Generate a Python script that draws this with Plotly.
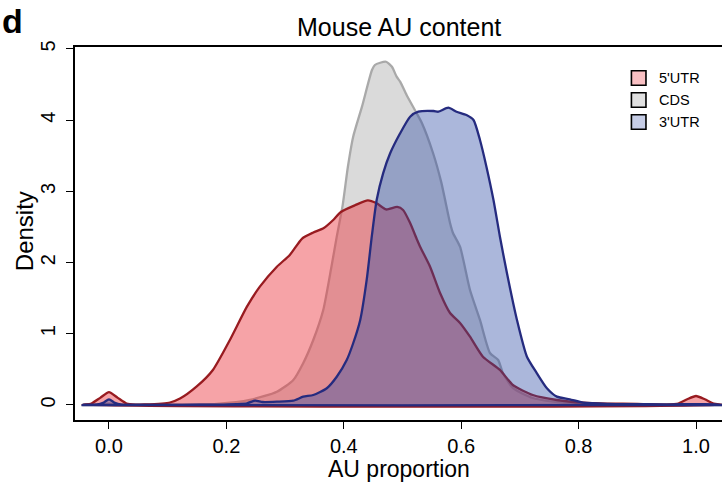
import plotly.graph_objects as go

# Kernel density estimates of AU proportion per transcript region (mouse)
utr5_x = [-0.045, -0.03, -0.015, 0.0, 0.015, 0.03, 0.045, 0.06, 0.09, 0.104, 0.121, 0.149,
          0.177, 0.206, 0.235, 0.257, 0.286, 0.308, 0.329, 0.348, 0.366, 0.382, 0.395,
          0.419, 0.441, 0.456, 0.472, 0.491, 0.501, 0.513, 0.525, 0.530, 0.547, 0.564,
          0.581, 0.598, 0.615, 0.637, 0.666, 0.688, 0.722, 0.763, 0.808, 0.85, 0.90,
          0.95, 0.97, 0.985, 1.0, 1.015, 1.03, 1.045]
utr5_y = [0.0, 0.02, 0.10, 0.180, 0.10, 0.02, 0.006, 0.008, 0.02, 0.035, 0.09, 0.257,
          0.492, 0.913, 1.381, 1.662, 1.942, 2.107, 2.338, 2.423, 2.486, 2.598, 2.711,
          2.805, 2.875, 2.833, 2.746, 2.781, 2.739, 2.556, 2.317, 2.223, 1.942, 1.573,
          1.292, 1.152, 0.959, 0.678, 0.492, 0.281, 0.140, 0.070, 0.032, 0.02, 0.015,
          0.006, 0.02, 0.08, 0.126, 0.08, 0.02, 0.0]

cds_x = [-0.045, -0.02, 0.0, 0.02, 0.05, 0.10, 0.15, 0.184, 0.240, 0.286, 0.314, 0.331,
         0.348, 0.365, 0.379, 0.388, 0.398, 0.407, 0.416, 0.431, 0.448, 0.453, 0.462,
         0.472, 0.482, 0.490, 0.496, 0.507, 0.521, 0.533, 0.552, 0.566, 0.581, 0.586,
         0.598, 0.615, 0.632, 0.649, 0.663, 0.671, 0.688, 0.722, 0.780, 0.85, 0.95,
         1.0, 1.045]
cds_y = [0.0, 0.004, 0.02, 0.004, 0.002, 0.003, 0.006, 0.014, 0.070, 0.187, 0.351, 0.590,
         0.913, 1.334, 1.943, 2.364, 2.800, 3.346, 3.768, 4.190, 4.705, 4.775, 4.807,
         4.821, 4.750, 4.611, 4.541, 4.354, 4.143, 3.960, 3.539, 3.130, 2.556, 2.416,
         2.223, 1.615, 1.194, 0.730, 0.632, 0.449, 0.239, 0.098, 0.028, 0.010, 0.004,
         0.006, 0.0]

utr3_x = [-0.045, -0.02, -0.01, 0.0, 0.01, 0.02, 0.05, 0.10, 0.15, 0.184, 0.235, 0.249,
          0.262, 0.286, 0.314, 0.331, 0.348, 0.371, 0.388, 0.405, 0.416, 0.428, 0.439,
          0.448, 0.456, 0.467, 0.479, 0.496, 0.513, 0.527, 0.553, 0.561, 0.578, 0.592,
          0.609, 0.621, 0.632, 0.643, 0.655, 0.666, 0.678, 0.695, 0.712, 0.729, 0.746,
          0.763, 0.785, 0.808, 0.85, 0.90, 0.95, 1.0, 1.045]
utr3_y = [0.0, 0.004, 0.03, 0.08, 0.03, 0.004, 0.002, 0.002, 0.003, 0.005, 0.024, 0.060,
          0.042, 0.046, 0.060, 0.117, 0.140, 0.235, 0.397, 0.632, 0.867, 1.194, 1.756,
          2.388, 2.879, 3.254, 3.535, 3.816, 4.049, 4.119, 4.129, 4.119, 4.176, 4.119,
          4.073, 4.003, 3.722, 3.347, 2.879, 2.364, 1.850, 1.194, 0.678, 0.445, 0.235,
          0.117, 0.080, 0.032, 0.015, 0.010, 0.005, 0.010, 0.0]

series_names = ["5'UTR", "CDS", "3'UTR"]
fill_colors = ["rgba(236,50,60,0.45)", "rgba(150,150,150,0.35)", "rgba(45,75,165,0.40)"]
line_colors = ["#981B20", "#A9A9A9", "#252B7F"]
key_colors = ["#F9C0C3", "#E0E0E0", "#C6CDE6"]

x_ticks = [0.0, 0.2, 0.4, 0.6, 0.8, 1.0]
x_tick_text = ["0.0", "0.2", "0.4", "0.6", "0.8", "1.0"]
y_ticks = [0, 1, 2, 3, 4, 5]

data = {"5'UTR": (utr5_x, utr5_y), "CDS": (cds_x, cds_y), "3'UTR": (utr3_x, utr3_y)}

FONT = "Liberation Sans, Arial, Helvetica, sans-serif"

fig = go.Figure()

# draw CDS underneath, then 5'UTR, then 3'UTR on top
for name in ["CDS", "5'UTR", "3'UTR"]:
    i = series_names.index(name)
    xs, ys = data[name]
    fig.add_trace(go.Scatter(
        x=list(xs) + [xs[0]], y=list(ys) + [ys[0]],
        mode="lines", fill="toself", fillcolor=fill_colors[i],
        line=dict(color=line_colors[i], width=2.3, shape="spline", smoothing=0.6),
        showlegend=False, hoverinfo="skip",
    ))

fig.update_layout(
    width=722, height=486,
    margin=dict(l=75, r=0, t=47, b=66),
    paper_bgcolor="white", plot_bgcolor="white",
    font=dict(family=FONT, color="black"),
    showlegend=False,
)

fig.update_xaxes(
    range=[-0.0579, 1.0443], tickvals=x_ticks, ticktext=x_tick_text,
    showgrid=False, zeroline=False, showline=True, mirror=True,
    linecolor="black", linewidth=1.6,
    ticks="outside", ticklen=7, tickwidth=1.4, tickcolor="black",
    tickfont=dict(size=20, family=FONT),
)
fig.update_yaxes(
    range=[-0.211, 5.028], tickvals=y_ticks,
    showgrid=False, zeroline=False, showline=True, mirror=False,
    linecolor="black", linewidth=1.6,
    ticks="outside", ticklen=7, tickwidth=1.4, tickcolor="black",
    tickangle=-90, tickfont=dict(size=20, family=FONT), ticklabelstandoff=3,
)

annotations = [
    dict(text="Mouse AU content", x=0.5, y=1.0536, xref="paper", yref="paper",
         xanchor="center", yanchor="middle", showarrow=False, font=dict(size=25)),
    dict(text="AU proportion", x=0.5, y=-0.131, xref="paper", yref="paper",
         xanchor="center", yanchor="middle", showarrow=False, font=dict(size=23)),
    dict(text="Density", x=-0.0780, y=0.505, xref="paper", yref="paper",
         xanchor="center", yanchor="middle", textangle=-90, showarrow=False,
         font=dict(size=24)),
    dict(text="<b>d</b>", x=-0.1159, y=1.127, xref="paper", yref="paper",
         xanchor="left", yanchor="top", showarrow=False, font=dict(size=34)),
]

# legend key: boxes and labels
shapes = []
key_y = [0.917, 0.858, 0.799]
for i, name in enumerate(series_names):
    shapes.append(dict(type="rect", xref="paper", yref="paper",
                       x0=0.860, x1=0.8825, y0=key_y[i] - 0.0195, y1=key_y[i] + 0.0195,
                       fillcolor=key_colors[i], line=dict(color="black", width=1.6)))
    annotations.append(dict(text=name, x=0.899, y=key_y[i], xref="paper", yref="paper",
                            xanchor="left", yanchor="middle", showarrow=False,
                            font=dict(size=14.5)))

fig.update_layout(annotations=annotations, shapes=shapes)

fig.write_html("out.html")
